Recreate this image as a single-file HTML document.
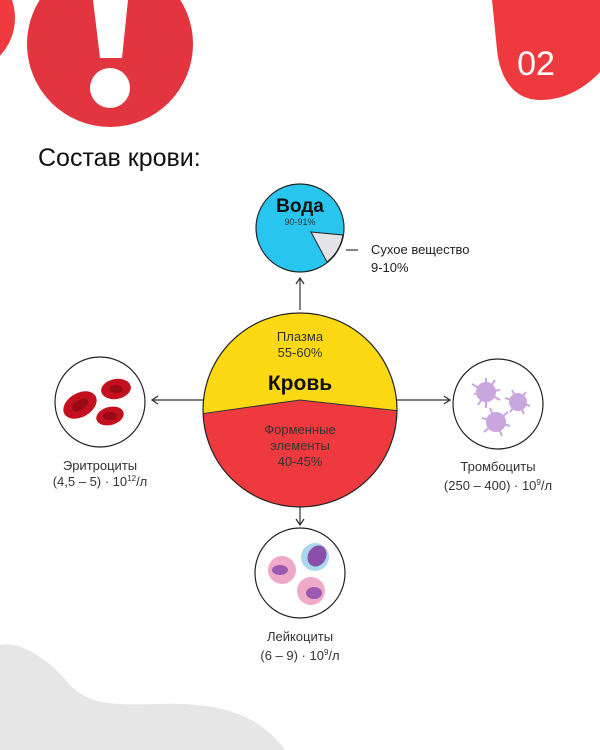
<!DOCTYPE html>
<html><head><meta charset="utf-8"><style>
html,body{margin:0;padding:0;background:#fff;}
body{width:600px;height:750px;overflow:hidden;position:relative;font-family:"Liberation Sans","DejaVu Sans",sans-serif;}
svg{position:absolute;left:0;top:0}
</style></head><body>
<svg width="600" height="750" viewBox="0 0 600 750" font-family="Liberation Sans, DejaVu Sans, sans-serif">
<defs>
<marker id="ar" markerWidth="10" markerHeight="10" refX="8" refY="5" orient="auto" markerUnits="userSpaceOnUse">
<path d="M2,1 L8,5 L2,9" fill="none" stroke="#333" stroke-width="1.3"/></marker>
</defs>
<path d="M0,645 C20,640 50,660 70,685 C90,705 110,705 160,704 C220,702 260,715 285,750 L0,750 Z" fill="#e6e6e6"/>
<circle cx="-40" cy="18" r="55" fill="#ee3a3e"/>
<circle cx="110" cy="44" r="83" fill="#e23540"/>
<path d="M93,0 L128,0 L122,58 L100,58 Z" fill="#fff"/>
<circle cx="110" cy="88" r="20" fill="#fff"/>
<path d="M492,0 L600,0 L600,72 C585,88 565,100 540,100 C515,100 500,80 497,50 Z" fill="#ee3a3e"/>
<text x="536" y="75" font-size="34" fill="#fff" text-anchor="middle">02</text>
<text x="38" y="166" font-size="25" fill="#111">Состав крови:</text>
<circle cx="300" cy="228" r="44" fill="#28c6ef" stroke="#222" stroke-width="1.2"/>
<path d="M311,232 L343,235 A44,44 0 0 1 327,262 Z" fill="#e4e4e8" stroke="#222" stroke-width="1"/>
<text x="300" y="212" font-size="19" font-weight="bold" text-anchor="middle" fill="#111">Вода</text>
<text x="300" y="225" font-size="9" text-anchor="middle" fill="#333">90-91%</text>
<line x1="346" y1="250" x2="358" y2="250" stroke="#333" stroke-width="1.2"/>
<text x="371" y="254" font-size="13" fill="#222">Сухое вещество</text>
<text x="371" y="272" font-size="13" fill="#222">9-10%</text>
<line x1="300" y1="310" x2="300" y2="278" stroke="#333" stroke-width="1.2" marker-end="url(#ar)"/>
<line x1="203" y1="400" x2="152" y2="400" stroke="#333" stroke-width="1.2" marker-end="url(#ar)"/>
<line x1="397" y1="400" x2="450" y2="400" stroke="#333" stroke-width="1.2" marker-end="url(#ar)"/>
<line x1="300" y1="507" x2="300" y2="525" stroke="#333" stroke-width="1.2" marker-end="url(#ar)"/>
<clipPath id="mc"><circle cx="300" cy="410" r="97"/></clipPath>
<g clip-path="url(#mc)">
<rect x="200" y="310" width="200" height="200" fill="#fcd913"/>
<path d="M200,414 L300,400 L400,411 L400,510 L200,510 Z" fill="#ee3a3e"/>
<path d="M200,414 L300,400 L400,411" fill="none" stroke="#333" stroke-width="1"/>
</g>
<circle cx="300" cy="410" r="97" fill="none" stroke="#222" stroke-width="1.2"/>
<text x="300" y="341" font-size="13" text-anchor="middle" fill="#333">Плазма</text>
<text x="300" y="357" font-size="13" text-anchor="middle" fill="#333">55-60%</text>
<text x="300" y="390" font-size="21" font-weight="bold" text-anchor="middle" fill="#111">Кровь</text>
<text x="300" y="434" font-size="13" text-anchor="middle" fill="#333">Форменные</text>
<text x="300" y="450" font-size="13" text-anchor="middle" fill="#333">элементы</text>
<text x="300" y="466" font-size="13" text-anchor="middle" fill="#333">40-45%</text>
<circle cx="100" cy="402" r="45" fill="#fff" stroke="#222" stroke-width="1.2"/>
<ellipse cx="80" cy="405" rx="18" ry="12" transform="rotate(-30 80 405)" fill="#c4101e"/>
<ellipse cx="80" cy="405" rx="9" ry="5" transform="rotate(-30 80 405)" fill="#9a0a14"/>
<ellipse cx="116" cy="389" rx="15" ry="10" transform="rotate(-10 116 389)" fill="#c4101e"/>
<ellipse cx="116" cy="389" rx="7" ry="4" fill="#9a0a14"/>
<ellipse cx="110" cy="416" rx="14" ry="9" transform="rotate(-15 110 416)" fill="#c4101e"/>
<ellipse cx="110" cy="416" rx="7" ry="4" fill="#9a0a14"/>
<text x="100" y="470" font-size="13" text-anchor="middle" fill="#333">Эритроциты</text>
<text x="100" y="486" font-size="13" text-anchor="middle" fill="#333">(4,5 – 5) · 10<tspan font-size="8" dy="-5">12</tspan><tspan dy="5">/л</tspan></text>
<circle cx="498" cy="404" r="45" fill="#fff" stroke="#222" stroke-width="1.2"/>
<g fill="#c9a6de" stroke="#c9a6de" stroke-width="2">
<circle cx="486" cy="392" r="9"/><path d="M472,384 L500,400 M478,405 L495,380 M486,378 L486,408 M474,394 L500,390" />
<circle cx="518" cy="402" r="8"/><path d="M505,398 L530,406 M512,390 L524,414 M526,392 L510,412" />
<circle cx="496" cy="422" r="9"/><path d="M482,418 L510,426 M490,408 L502,436 M508,412 L484,432" />
</g>
<text x="498" y="471" font-size="13" text-anchor="middle" fill="#333">Тромбоциты</text>
<text x="498" y="490" font-size="13" text-anchor="middle" fill="#333">(250 – 400) · 10<tspan font-size="8" dy="-5">9</tspan><tspan dy="5">/л</tspan></text>
<circle cx="300" cy="573" r="45" fill="#fff" stroke="#222" stroke-width="1.2"/>
<circle cx="315" cy="557" r="14" fill="#a9d8ec"/><ellipse cx="317" cy="556" rx="9" ry="11" transform="rotate(30 317 556)" fill="#8a4fa8"/>
<circle cx="282" cy="570" r="14" fill="#f1a9c9"/><ellipse cx="280" cy="570" rx="8" ry="5" fill="#9a5ab0"/>
<circle cx="311" cy="591" r="14" fill="#f1a9c9"/><ellipse cx="314" cy="593" rx="8" ry="6" fill="#9a5ab0"/>
<text x="300" y="641" font-size="13" text-anchor="middle" fill="#333">Лейкоциты</text>
<text x="300" y="660" font-size="13" text-anchor="middle" fill="#333">(6 – 9) · 10<tspan font-size="8" dy="-5">9</tspan><tspan dy="5">/л</tspan></text>
</svg>
</body></html>
